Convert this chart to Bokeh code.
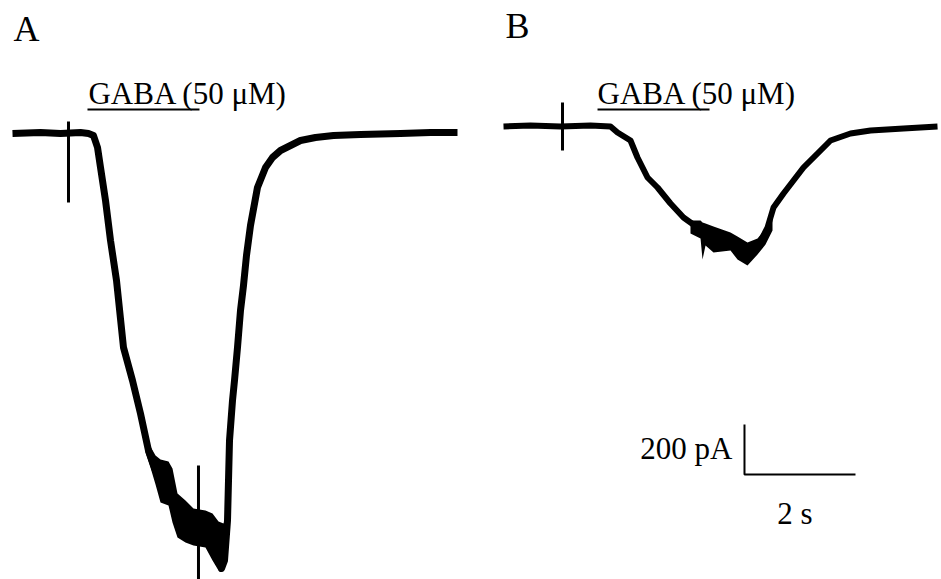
from bokeh.plotting import figure
from bokeh.models import Range1d
from bokeh.core.properties import value
from bokeh.embed import file_html
from bokeh.resources import INLINE

# ---------------- data (time in s, current in pA, relative to each trace's start/baseline) ----
trace_a_t = [0.0, 0.505, 0.865, 1.225, 1.369, 1.459, 1.532, 1.586, 1.676, 1.766, 1.874, 2.0,
             2.162, 2.306, 2.450, 2.577, 2.667, 2.811, 2.883, 2.973, 3.117, 3.261, 3.477,
             3.604, 3.712, 3.766, 3.820, 3.874, 3.910, 3.964, 4.0, 4.054, 4.108, 4.162,
             4.216, 4.288, 4.414, 4.559, 4.685, 4.829, 5.009, 5.189, 5.459, 5.784, 6.270,
             6.991, 7.532, 8.018]
trace_a_i = [0, 4, 0, 4, 0, -8, -56, -136, -268, -428, -588, -856,
             -988, -1120, -1268, -1348, -1388, -1404, -1448, -1528, -1552, -1576, -1580,
             -1616, -1676, -1740, -1708, -1548, -1228, -1068, -988, -856, -708, -608,
             -488, -368, -216, -136, -96, -68, -48, -28, -16, -8, -4,
             0, 4, 4]

# noise envelope around the peak of trace A
band_a_t = [2.396, 2.486, 2.577, 2.667, 2.811, 2.883, 2.973, 3.117, 3.261, 3.477, 3.604,
            3.712, 3.802, 3.874]
band_a_hi = [-1240, -1252, -1288, -1304, -1312, -1340, -1440, -1468, -1500, -1508, -1520,
             -1552, -1560, -1520]
band_a_lo = [-1276, -1336, -1404, -1476, -1488, -1556, -1616, -1636, -1648, -1656, -1708,
             -1748, -1736, -1616]

trace_b_t = [0.0, 0.486, 1.027, 1.568, 1.928, 2.054, 2.288, 2.414, 2.595, 2.775, 3.009,
             3.243, 3.495, 3.730, 3.964, 4.216, 4.396, 4.577, 4.757, 4.865, 5.045, 5.225,
             5.405, 5.658, 5.892, 6.252, 6.613, 7.207, 7.820]
trace_b_i = [0, 4, 0, 4, 0, -24, -56, -124, -204, -244, -308,
             -364, -404, -428, -456, -484, -516, -484, -404, -324, -268, -216,
             -164, -108, -56, -28, -16, -8, 0]

band_b_t = [3.369, 3.550, 3.586, 3.640, 3.784, 4.090, 4.216, 4.396, 4.577, 4.721, 4.847]
band_b_hi = [-376, -376, -384, -388, -400, -424, -440, -464, -448, -408, -356]
band_b_lo = [-428, -448, -532, -476, -504, -496, -532, -556, -512, -472, -416]

# stimulus artifacts: time, top, bottom
art_a_t = [1.009, 3.351]
art_a_top = [48, -1328]
art_a_bot = [-276, -1900]
art_b_t = [1.063]
art_b_top = [96]
art_b_bot = [-96]

# GABA application (s, relative to trace start)
gaba_a = [1.351, 3.369]
gaba_b = [1.694, 3.712]
gaba_label = "GABA (50 μM)"

scale_t = 2       # s
scale_i = 200     # pA

# ---------------- layout ----------------
B_DX = 8.847      # time offset of trace B on the page
B_DY = 28         # baseline offset of trace B
BAR_Y = 96
SERIF = value("Liberation Serif")
UP31 = 44         # text baseline correction (pA) for 31px text
UP36 = 56

p = figure(width=941, height=579, output_backend="svg", toolbar_location=None,
           x_range=Range1d(-12 / 55.5, 929 / 55.5), y_range=Range1d(-1784, 532),
           min_border=0, outline_line_color=None)
p.axis.visible = False
p.grid.visible = False
p.background_fill_color = "white"
p.border_fill_color = "white"

# trace A
p.varea(x=band_a_t, y1=band_a_lo, y2=band_a_hi, fill_color="black")
p.line(trace_a_t, trace_a_i, line_color="black", line_width=7, line_join="round")
p.segment(x0=art_a_t, y0=art_a_top, x1=art_a_t, y1=art_a_bot, line_color="black", line_width=3)

# trace B
bt = [t + B_DX for t in trace_b_t]
bi = [v + B_DY for v in trace_b_i]
p.varea(x=[t + B_DX for t in band_b_t], y1=[v + B_DY for v in band_b_lo],
        y2=[v + B_DY for v in band_b_hi], fill_color="black")
p.line(bt, bi, line_color="black", line_width=6, line_join="round")
p.segment(x0=[t + B_DX for t in art_b_t], y0=[v + B_DY for v in art_b_top],
          x1=[t + B_DX for t in art_b_t], y1=[v + B_DY for v in art_b_bot],
          line_color="black", line_width=3)

# GABA bars
p.segment(x0=[gaba_a[0], gaba_b[0] + B_DX], y0=[BAR_Y, BAR_Y],
          x1=[gaba_a[1], gaba_b[1] + B_DX], y1=[BAR_Y, BAR_Y],
          line_color="black", line_width=2)
p.text(x=[gaba_a[0] + 0.018, gaba_b[0] + B_DX], y=[116 + UP31, 116 + UP31],
       text=[gaba_label, gaba_label],
       text_font=SERIF, text_font_size="31px", text_color="black",
       text_align="left", text_baseline="alphabetic")

# panel letters
p.text(x=[0.018, 8.883], y=[364 + UP36, 376 + UP36], text=["A", "B"], text_font=SERIF,
       text_font_size="36px", text_color="black", text_align="left",
       text_baseline="alphabetic")

# scale bar
sx, sy = 13.189, -1364
p.line([sx, sx, sx + scale_t], [sy + scale_i, sy, sy], line_color="black", line_width=2)
p.text(x=[sx - 0.216], y=[sy + 60 + UP31], text=[f"{scale_i} pA"], text_font=SERIF,
       text_font_size="31px", text_color="black", text_align="right",
       text_baseline="alphabetic")
p.text(x=[sx + 0.91], y=[sy - 200 + UP31], text=[f"{scale_t} s"], text_font=SERIF,
       text_font_size="31px", text_color="black", text_align="center",
       text_baseline="alphabetic")

open("out.html", "w").write(file_html(p, INLINE))
